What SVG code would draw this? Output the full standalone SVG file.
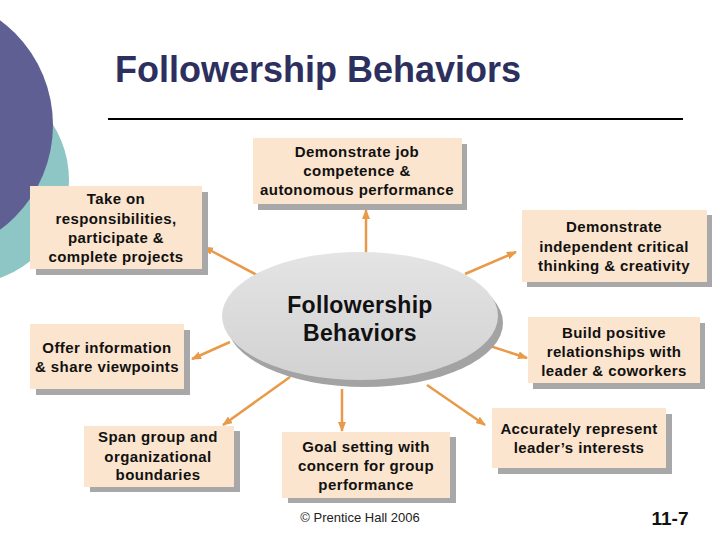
<svg xmlns="http://www.w3.org/2000/svg" width="720" height="540" viewBox="0 0 720 540">
<defs>
<marker id="ah" markerWidth="10" markerHeight="8" refX="9" refY="4" orient="auto" markerUnits="userSpaceOnUse">
<path d="M0,0 L10,4 L0,8 Z" fill="#E89A48"/>
</marker>
<linearGradient id="eg" x1="0" y1="0" x2="0" y2="1">
<stop offset="0" stop-color="#E4E4E4"/>
<stop offset="1" stop-color="#D2D2D2"/>
</linearGradient>
</defs>
<style>
.box{fill:#FCE5CE}
.sh{fill:#A8A8A8}
.t{font-family:"Liberation Sans",Arial,sans-serif;font-weight:bold;font-size:15px;fill:#111;text-anchor:middle;letter-spacing:0.4px}
.c{stroke:#E89A48;stroke-width:2.5;fill:none;marker-end:url(#ah)}
</style>
<rect width="720" height="540" fill="#FFFFFF"/>
<circle cx="-35" cy="180" r="104" fill="#8EC5C5"/>
<circle cx="-77" cy="125" r="130" fill="#5F5F93"/>
<text x="318" y="82" font-family="'Liberation Sans',Arial,sans-serif" font-weight="bold" font-size="36" fill="#2D2F5E" text-anchor="middle">Followership Behaviors</text>
<line x1="108" y1="119" x2="683" y2="119" stroke="#000" stroke-width="2"/>

<g id="connectors">
<line class="c" x1="366" y1="253" x2="366" y2="210"/>
<line class="c" x1="465" y1="274" x2="516" y2="252"/>
<line class="c" x1="487" y1="345" x2="527" y2="358"/>
<line class="c" x1="427" y1="385" x2="485" y2="425"/>
<line class="c" x1="342" y1="389" x2="342" y2="431"/>
<line class="c" x1="290" y1="377" x2="223" y2="425"/>
<line class="c" x1="230" y1="342" x2="192" y2="359"/>
<line class="c" x1="257" y1="275" x2="204" y2="247"/>
</g>

<g id="center">
<ellipse cx="365" cy="323" rx="138" ry="64" fill="#A3A3A3"/>
<ellipse cx="360" cy="316" rx="138" ry="64" fill="url(#eg)"/>
<text class="t" x="360" y="313" style="font-size:23px;letter-spacing:0.3px">Followership</text>
<text class="t" x="360" y="341" style="font-size:23px;letter-spacing:0.3px">Behaviors</text>
</g>

<g id="n1">
<rect class="sh" x="36" y="192" width="172" height="83"/>
<rect class="box" x="30" y="186" width="172" height="83"/>
<text class="t" x="116" y="204">Take on</text>
<text class="t" x="116" y="224">responsibilities,</text>
<text class="t" x="116" y="243">participate &amp;</text>
<text class="t" x="116" y="262">complete projects</text>
</g>

<g id="n2">
<rect class="sh" x="258" y="144" width="209" height="66"/>
<rect class="box" x="253" y="138" width="209" height="66"/>
<text class="t" x="357" y="157">Demonstrate job</text>
<text class="t" x="357" y="176">competence &amp;</text>
<text class="t" x="357" y="195">autonomous performance</text>
</g>

<g id="n3">
<rect class="sh" x="527" y="215" width="185" height="72"/>
<rect class="box" x="522" y="210" width="185" height="72"/>
<text class="t" x="614" y="232">Demonstrate</text>
<text class="t" x="614" y="252">independent critical</text>
<text class="t" x="614" y="271">thinking &amp; creativity</text>
</g>

<g id="n4">
<rect class="sh" x="533" y="323" width="172" height="66"/>
<rect class="box" x="528" y="317" width="172" height="66"/>
<text class="t" x="614" y="338">Build positive</text>
<text class="t" x="614" y="357">relationships with</text>
<text class="t" x="614" y="376">leader &amp; coworkers</text>
</g>

<g id="n5">
<rect class="sh" x="498" y="414" width="174" height="60"/>
<rect class="box" x="492" y="408" width="174" height="60"/>
<text class="t" x="579" y="434">Accurately represent</text>
<text class="t" x="579" y="453">leader’s interests</text>
</g>

<g id="n6">
<rect class="sh" x="288" y="437" width="168" height="66"/>
<rect class="box" x="282" y="432" width="168" height="66"/>
<text class="t" x="366" y="452">Goal setting with</text>
<text class="t" x="366" y="471">concern for group</text>
<text class="t" x="366" y="490">performance</text>
</g>

<g id="n7">
<rect class="sh" x="90" y="431" width="150" height="61"/>
<rect class="box" x="84" y="426" width="150" height="61"/>
<text class="t" x="158" y="442">Span group and</text>
<text class="t" x="158" y="462">organizational</text>
<text class="t" x="158" y="480">boundaries</text>
</g>

<g id="n8">
<rect class="sh" x="36" y="330" width="154" height="65"/>
<rect class="box" x="30" y="324" width="154" height="65"/>
<text class="t" x="107" y="353">Offer information</text>
<text class="t" x="107" y="372">&amp; share viewpoints</text>
</g>

<text x="360" y="522" font-family="'Liberation Sans',Arial,sans-serif" font-size="13" fill="#222" text-anchor="middle">© Prentice Hall 2006</text>
<text x="670" y="525" font-family="'Liberation Sans',Arial,sans-serif" font-weight="bold" font-size="19" fill="#111" text-anchor="middle">11-7</text>
</svg>
